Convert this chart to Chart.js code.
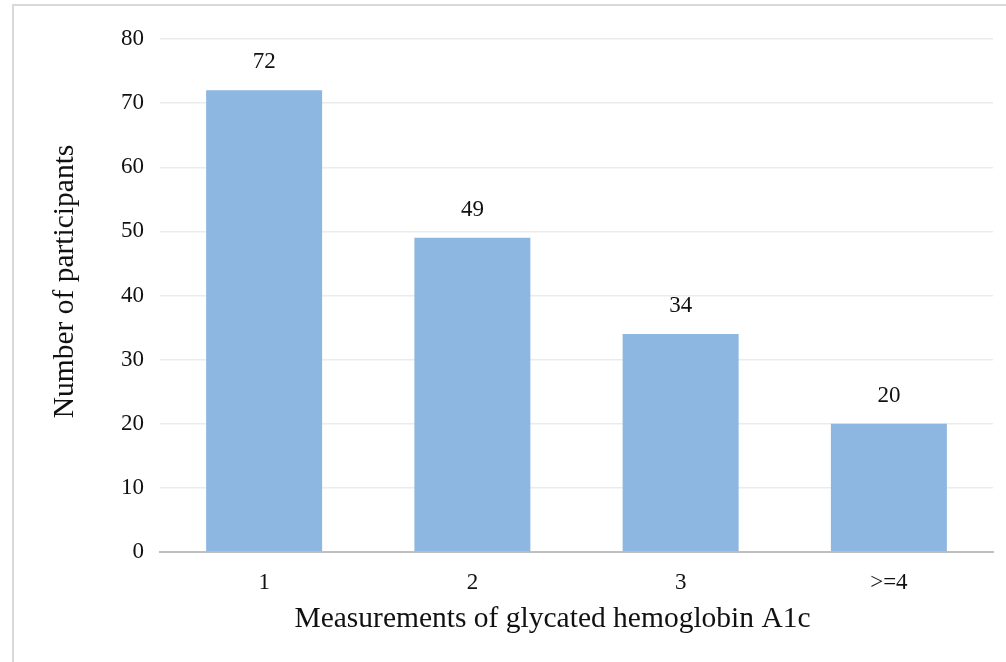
<!DOCTYPE html>
<html>
<head>
<meta charset="utf-8">
<script src="https://cdn.jsdelivr.net/npm/chart.js@4/dist/chart.umd.min.js"></script>
<style>
html,body{margin:0;padding:0;background:#fff;}
#wrap{width:1006px;height:662px;}
</style>
</head>
<body>
<div id="wrap"><canvas id="c" width="1006" height="662"></canvas></div>
<script>
const categories = ['1', '2', '3', '>=4'];
const participants = [72, 49, 34, 20];
const yTicks = [0, 10, 20, 30, 40, 50, 60, 70, 80];
const xTitle = 'Measurements of glycated hemoglobin A1c';
const yTitle = 'Number of participants';

const FONT = "'Liberation Serif', 'Times New Roman', serif";
const TXT = '#111111';

const framePlugin = {
  id: 'frame',
  beforeDraw(chart) {
    const ctx = chart.ctx;
    ctx.save();
    ctx.fillStyle = '#ffffff';
    ctx.fillRect(0, 0, chart.width, chart.height);
    ctx.strokeStyle = '#d9d9d9';
    ctx.lineWidth = 2;
    ctx.beginPath();
    ctx.moveTo(13, chart.height);
    ctx.lineTo(13, 5);
    ctx.lineTo(chart.width, 5);
    ctx.stroke();
    ctx.restore();
  }
};

const titlePlugin = {
  id: 'axisTitles',
  afterDraw(chart) {
    const ctx = chart.ctx;
    const area = chart.chartArea;
    ctx.save();
    ctx.font = '29.5px ' + FONT;
    ctx.fillStyle = TXT;
    ctx.textAlign = 'center';
    ctx.textBaseline = 'alphabetic';
    ctx.fillText(xTitle, (area.left + area.right) / 2 - 24, 627);
    ctx.translate(73, (area.top + area.bottom) / 2 - 14);
    ctx.rotate(-Math.PI / 2);
    ctx.fillText(yTitle, 0, 0);
    ctx.restore();
  }
};

const labelPlugin = {
  id: 'valueLabels',
  afterDatasetsDraw(chart) {
    const ctx = chart.ctx;
    const meta = chart.getDatasetMeta(0);
    ctx.save();
    ctx.font = '23px ' + FONT;
    ctx.fillStyle = TXT;
    ctx.textAlign = 'center';
    ctx.textBaseline = 'middle';
    meta.data.forEach((bar, i) => {
      ctx.fillText(String(chart.data.datasets[0].data[i]), bar.x, bar.y - 28);
    });
    ctx.restore();
  }
};

new Chart(document.getElementById('c'), {
  type: 'bar',
  data: {
    labels: categories,
    datasets: [{
      data: participants,
      backgroundColor: 'rgb(141,183,224)',
      borderWidth: 0,
      categoryPercentage: 1,
      barPercentage: 0.557
    }]
  },
  options: {
    responsive: false,
    animation: false,
    devicePixelRatio: 1,
    layout: { padding: { left: 0, right: 13, top: 39, bottom: 0 } },
    plugins: { legend: { display: false }, tooltip: { enabled: false } },
    scales: {
      x: {
        grid: { display: false, drawTicks: false },
        border: { display: true, color: '#bfbfbf', width: 2 },
        ticks: { color: TXT, font: { family: FONT, size: 23, lineHeight: 1.2 }, padding: 17 },
        title: { display: false },
        afterFit(s) { s.height = 110; }
      },
      y: {
        min: yTicks[0],
        max: yTicks[yTicks.length - 1],
        afterBuildTicks(s) { s.ticks = yTicks.map(v => ({ value: v })); },
        grid: { color: '#ebebeb', lineWidth: 1.5, drawTicks: false },
        border: { display: false },
        ticks: { color: TXT, font: { family: FONT, size: 23, lineHeight: 1.2 }, padding: 16 },
        title: { display: false },
        afterFit(s) { s.width = 160; }
      }
    }
  },
  plugins: [framePlugin, labelPlugin, titlePlugin]
});
</script>
</body>
</html>
